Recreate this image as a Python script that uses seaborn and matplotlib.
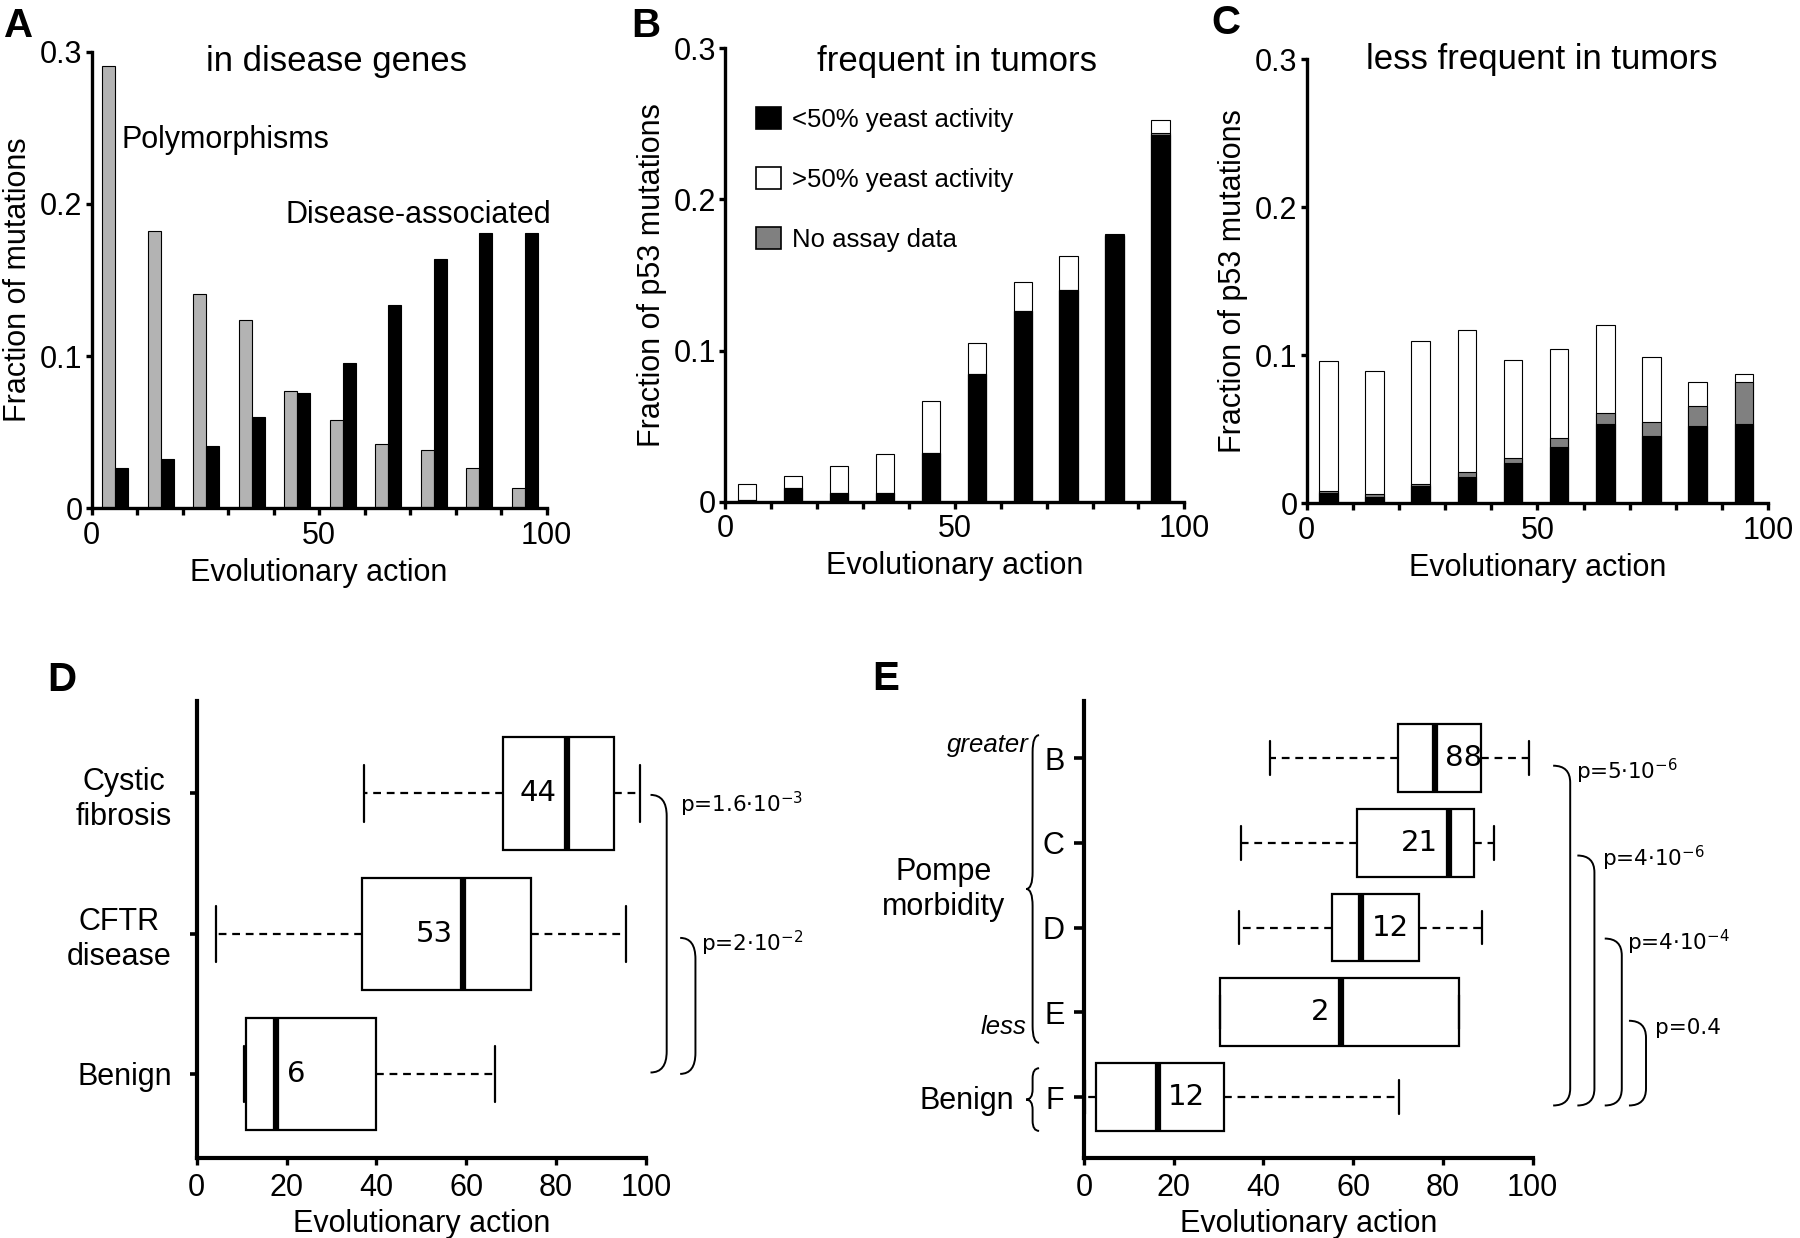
import numpy as np
import pandas as pd
import matplotlib
matplotlib.use("Agg")
import matplotlib.pyplot as plt
import seaborn as sns
from matplotlib.path import Path
from matplotlib.patches import PathPatch, Patch

# ---- data ----
bin_start = [0, 10, 20, 30, 40, 50, 60, 70, 80, 90]

# A: in disease genes
poly_frac = [0.2906, 0.1824, 0.1405, 0.1235, 0.0769, 0.0581, 0.0424, 0.0381, 0.0268, 0.0136]
disease_frac = [0.0268, 0.0325, 0.0412, 0.0600, 0.0760, 0.0958, 0.1336, 0.1640, 0.1810, 0.1810]

# B: frequent in tumors
b_low_act = [0.0010, 0.0094, 0.0059, 0.0059, 0.0324, 0.0843, 0.1259, 0.1398, 0.1760, 0.2426]
b_no_data = [0.0000, 0.0000, 0.0000, 0.0000, 0.0000, 0.0000, 0.0000, 0.0000, 0.0007, 0.0015]
b_high_act = [0.0108, 0.0076, 0.0177, 0.0260, 0.0342, 0.0207, 0.0194, 0.0225, 0.0005, 0.0087]

# C: less frequent in tumors
c_low_act = [0.0067, 0.0046, 0.0116, 0.0176, 0.0275, 0.0380, 0.0537, 0.0453, 0.0525, 0.0537]
c_no_data = [0.0017, 0.0019, 0.0012, 0.0034, 0.0033, 0.0061, 0.0075, 0.0094, 0.0133, 0.0282]
c_high_act = [0.0875, 0.0827, 0.0968, 0.0963, 0.0663, 0.0602, 0.0593, 0.0441, 0.0161, 0.0058]

legend_labels = ["<50% yeast activity", ">50% yeast activity", "No assay data"]

# D: CFTR
d_groups = ["Cystic\nfibrosis", "CFTR\ndisease", "Benign"]
d_low = [37.3, 4.2, 10.5]
d_q1 = [68.2, 36.8, 10.9]
d_med = [82.4, 59.3, 17.7]
d_q3 = [92.8, 74.5, 39.8]
d_high = [98.6, 95.5, 66.3]
d_n = [44, 53, 6]
d_pvals = ["p=1.6·10$^{\\mathregular{-3}}$", "p=2·10$^{\\mathregular{-2}}$"]

# E: Pompe
e_groups = ["B", "C", "D", "E", "F"]
e_low = [41.5, 35.0, 34.5, 30.4, 0.3]
e_q1 = [69.9, 60.9, 55.4, 30.4, 2.6]
e_med = [78.2, 81.4, 61.8, 57.2, 16.4]
e_q3 = [88.6, 87.0, 74.6, 83.5, 31.2]
e_high = [99.3, 91.5, 88.8, 83.5, 70.3]
e_n = [88, 21, 12, 2, 12]
e_pvals = ["p=5·10$^{\\mathregular{-6}}$", "p=4·10$^{\\mathregular{-6}}$",
           "p=4·10$^{\\mathregular{-4}}$", "p=0.4"]

sns.set_style("ticks")
plt.rcParams['font.family'] = ['Liberation Sans', 'DejaVu Sans']
plt.rcParams['axes.linewidth'] = 2.4
plt.rcParams['mathtext.default'] = 'regular'
for key in ['text.color', 'axes.labelcolor', 'xtick.color', 'ytick.color', 'axes.edgecolor']:
    plt.rcParams[key] = 'black'

FS = 22
fig = plt.figure(figsize=(18, 12.38), dpi=100)


def style_top(ax, ylabel):
    sns.despine(ax=ax)
    ax.set_xlim(0, 100)
    ax.set_ylim(0, 0.3)
    ax.set_xticks(range(0, 101, 10))
    ax.set_xticklabels(["0", "", "", "", "", "50", "", "", "", "", "100"])
    ax.set_yticks([0, 0.1, 0.2, 0.3])
    ax.set_yticklabels(["0", "0.1", "0.2", "0.3"])
    ax.tick_params(axis='x', length=5, width=2.4, pad=4, labelsize=FS)
    ax.tick_params(axis='y', length=4, width=2.4, pad=2.5, labelsize=FS)
    ax.set_xlabel("Evolutionary action", fontsize=FS, labelpad=5)
    ax.set_ylabel(ylabel, fontsize=FS, labelpad=5)


def stacked(ax, low, nodata, high, offset):
    pos = [b + offset for b in bin_start]
    mid = [a + b for a, b in zip(low, nodata)]
    tot = [a + b for a, b in zip(mid, high)]
    for vals, col in [(tot, "white"), (mid, "#808080"), (low, "black")]:
        sns.barplot(x=pos, y=vals, native_scale=True, width=0.40, color=col,
                    saturation=1, edgecolor="black", linewidth=0.8,
                    errorbar=None, ax=ax)


# ---- A ----
axA = fig.add_axes([0.0509, 0.5894, 0.2528, 0.3688])
sns.barplot(x=[b + 3.75 for b in bin_start], y=poly_frac, native_scale=True, width=0.29,
            color="#b3b3b3", saturation=1, edgecolor="black", linewidth=0.8,
            errorbar=None, ax=axA)
sns.barplot(x=[b + 6.6 for b in bin_start], y=disease_frac, native_scale=True, width=0.285,
            color="black", saturation=1, edgecolor="black", linewidth=0.8,
            errorbar=None, ax=axA)
style_top(axA, "Fraction of mutations")
axA.text(53.8, 0.2875, "in disease genes", fontsize=25, ha="center", va="baseline")
axA.text(6.6, 0.237, "Polymorphisms", fontsize=FS, ha="left", va="baseline")
axA.text(42.5, 0.1877, "Disease-associated", fontsize=FS, ha="left", va="baseline")

# ---- B ----
axB = fig.add_axes([0.4028, 0.5947, 0.2552, 0.3663])
stacked(axB, b_low_act, b_no_data, b_high_act, 4.8)
style_top(axB, "Fraction of p53 mutations")
axB.text(50.6, 0.2851, "frequent in tumors", fontsize=25, ha="center", va="baseline")
handles = [Patch(facecolor=c, edgecolor="black", linewidth=1.2, label=l)
           for c, l in zip(["black", "white", "#808080"], legend_labels)]
axB.legend(handles=handles, loc="upper left", bbox_to_anchor=(0.068, 0.87),
           frameon=False, fontsize=18.5, handlelength=0.95, handleheight=0.95,
           handletextpad=0.45, labelspacing=1.36, borderpad=0, borderaxespad=0)

# ---- C ----
axC = fig.add_axes([0.7259, 0.5934, 0.2565, 0.3587])
stacked(axC, c_low_act, c_no_data, c_high_act, 4.7)
style_top(axC, "Fraction of p53 mutations")
axC.text(50.9, 0.2937, "less frequent in tumors", fontsize=25, ha="center", va="baseline")


# ---- box panels ----
def box_frame(groups, low, q1, med, q3, high):
    rows = []
    for g, a, b, c, d, e in zip(groups, low, q1, med, q3, high):
        for v in (a, b, c, d, e):
            rows.append({"group": g, "value": v})
    return pd.DataFrame(rows)


def draw_box(ax, groups, low, q1, med, q3, high, counts, sides):
    df = box_frame(groups, low, q1, med, q3, high)
    sns.boxplot(data=df, x="value", y="group", order=groups, orient="y",
                whis=(0, 100), width=0.8, color="white", linecolor="black",
                linewidth=1.6, fliersize=0, saturation=1,
                medianprops={"linewidth": 4.5},
                whiskerprops={"linestyle": (0, (3.5, 2.6)), "linewidth": 1.6},
                capprops={"linewidth": 1.6}, ax=ax)
    for i, (m, n, s) in enumerate(zip(med, counts, sides)):
        if s == "left":
            ax.text(m - 2.4, i, str(n), ha="right", va="center", fontsize=21,
                    family="DejaVu Sans")
        else:
            ax.text(m + 2.4, i, str(n), ha="left", va="center", fontsize=21,
                    family="DejaVu Sans")
    sns.despine(ax=ax)
    ax.set_xlim(0, 100)
    ax.set_xticks(range(0, 101, 20))
    ax.tick_params(axis='x', length=5, width=2.4, pad=6, labelsize=FS)
    ax.set_xlabel("Evolutionary action", fontsize=FS, labelpad=4)
    ax.set_ylabel("")
    for sp in ax.spines.values():
        sp.set_linewidth(3)


def right_bracket(ax, y0, y1, x0, x1, r):
    verts = [(x0, y0), (x1, y0), (x1, y0 + r), (x1, y1 - r), (x1, y1), (x0, y1)]
    codes = [Path.MOVETO, Path.CURVE3, Path.CURVE3, Path.LINETO, Path.CURVE3, Path.CURVE3]
    ax.add_patch(PathPatch(Path(verts, codes), fill=False, lw=1.4, edgecolor="black",
                           clip_on=False))


def left_brace(ax, y0, y1, xl, xr, r):
    xm = (xl + xr) / 2
    ym = (y0 + y1) / 2
    verts = [(xr, y0), (xm, y0), (xm, y0 + r), (xm, ym - r), (xm, ym), (xl, ym),
             (xm, ym), (xm, ym + r), (xm, y1 - r), (xm, y1), (xr, y1)]
    codes = [Path.MOVETO, Path.CURVE3, Path.CURVE3, Path.LINETO, Path.CURVE3, Path.CURVE3,
             Path.CURVE3, Path.CURVE3, Path.LINETO, Path.CURVE3, Path.CURVE3]
    ax.add_patch(PathPatch(Path(verts, codes), fill=False, lw=1.4, edgecolor="black",
                           clip_on=False))


# ---- D ----
axD = fig.add_axes([0.1093, 0.0646, 0.2496, 0.3692])
draw_box(axD, d_groups, d_low, d_q1, d_med, d_q3, d_high, d_n, ["left", "left", "right"])
axD.set_ylim(2.6, -0.66)
axD.tick_params(axis='y', length=5, width=2.6, pad=13, labelsize=FS)
for lab in axD.get_yticklabels():
    lab.set_multialignment("center")
right_bracket(axD, 0.01, 1.99, 101.0, 104.6, 0.15)
right_bracket(axD, 1.03, 2.0, 107.6, 111.0, 0.15)
axD.text(107.6, 0.08, d_pvals[0], fontsize=15.5, ha="left", va="center", family="DejaVu Sans")
axD.text(112.2, 1.07, d_pvals[1], fontsize=15.5, ha="left", va="center", family="DejaVu Sans")

# ---- E ----
axE = fig.add_axes([0.6022, 0.0646, 0.2492, 0.3692])
draw_box(axE, e_groups, e_low, e_q1, e_med, e_q3, e_high, e_n,
         ["right", "left", "right", "left", "right"])
axE.set_ylim(4.72, -0.674)
axE.tick_params(axis='y', length=7, width=2.6, pad=7, labelsize=FS)
e_tops = [0.09, 1.15, 2.13, 3.1]
e_x0 = [104.6, 110.0, 116.1, 121.5]
for k in range(4):
    right_bracket(axE, e_tops[k], 4.1, e_x0[k], e_x0[k] + 3.8, 0.2)
for k, (tx, ty) in enumerate([(109.6, 0.16), (115.4, 1.18), (121.1, 2.18), (127.3, 3.19)]):
    axE.text(tx, ty, e_pvals[k], fontsize=15.5, ha="left", va="center", family="DejaVu Sans")
left_brace(axE, -0.27, 3.36, -12.9, -10.0, 0.2)
left_brace(axE, 3.66, 4.40, -12.9, -10.0, 0.12)
axE.text(-31.2, 1.55, "Pompe\nmorbidity", fontsize=FS, ha="center", va="center",
         multialignment="center", clip_on=False)
axE.text(-12.3, -0.16, "greater", fontsize=18.5, style="italic", ha="right", va="center",
         clip_on=False)
axE.text(-12.9, 3.17, "less", fontsize=18.5, style="italic", ha="right", va="center",
         clip_on=False)
axE.text(-15.5, 4.05, "Benign", fontsize=FS, ha="right", va="center", clip_on=False)

# ---- panel letters ----
for lx, ly, letter in [(0.002, 0.994, "A"), (0.3506, 0.994, "B"), (0.673, 0.997, "C"),
                       (0.026, 0.466, "D"), (0.4846, 0.467, "E")]:
    fig.text(lx, ly, letter, fontsize=29, fontweight="bold", ha="left", va="top")

fig.savefig("out.png", dpi=100)
